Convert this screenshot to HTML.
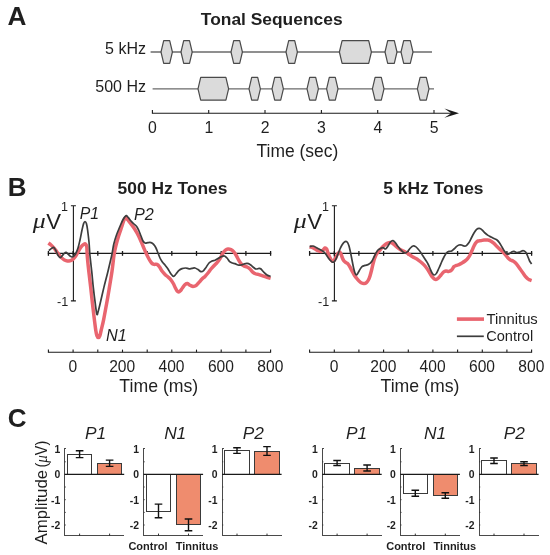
<!DOCTYPE html>
<html><head><meta charset="utf-8"><title>Figure</title>
<style>
html,body{margin:0;padding:0;background:#fff;}
body{width:550px;height:555px;overflow:hidden;font-family:"Liberation Sans",sans-serif;}
svg{display:block;will-change:transform;font-family:"Liberation Sans",sans-serif;fill:#1f1f1f;}
</style></head>
<body>
<svg width="550" height="555" viewBox="0 0 550 555">
<rect x="0" y="0" width="550" height="555" fill="#ffffff"/>
<text x="7.5" y="25.3" font-size="26.2" font-weight="bold">A</text>
<text x="271.7" y="25.4" font-size="17.4" font-weight="bold" text-anchor="middle">Tonal Sequences</text>
<text x="146" y="53.5" font-size="16" text-anchor="end">5 kHz</text>
<text x="146" y="91.9" font-size="16" text-anchor="end">500 Hz</text>
<line x1="150.6" y1="52.0" x2="432.0" y2="52.0" stroke="#6a6a6a" stroke-width="1.3"/>
<polygon points="161.0,52.0 163.7,40.6 169.7,40.6 172.4,52.0 169.7,63.4 163.7,63.4" fill="#dbdbdb" stroke="#4a4a4a" stroke-width="1.2" stroke-linejoin="round"/>
<polygon points="181.0,52.0 183.7,40.6 189.5,40.6 192.2,52.0 189.5,63.4 183.7,63.4" fill="#dbdbdb" stroke="#4a4a4a" stroke-width="1.2" stroke-linejoin="round"/>
<polygon points="231.0,52.0 233.7,40.6 239.7,40.6 242.4,52.0 239.7,63.4 233.7,63.4" fill="#dbdbdb" stroke="#4a4a4a" stroke-width="1.2" stroke-linejoin="round"/>
<polygon points="286.0,52.0 288.7,40.6 294.7,40.6 297.4,52.0 294.7,63.4 288.7,63.4" fill="#dbdbdb" stroke="#4a4a4a" stroke-width="1.2" stroke-linejoin="round"/>
<polygon points="339.4,52.0 342.1,40.6 368.7,40.6 371.4,52.0 368.7,63.4 342.1,63.4" fill="#dbdbdb" stroke="#4a4a4a" stroke-width="1.2" stroke-linejoin="round"/>
<polygon points="385.0,52.0 387.7,40.6 394.3,40.6 397.0,52.0 394.3,63.4 387.7,63.4" fill="#dbdbdb" stroke="#4a4a4a" stroke-width="1.2" stroke-linejoin="round"/>
<polygon points="401.0,52.0 403.7,40.6 410.3,40.6 413.0,52.0 410.3,63.4 403.7,63.4" fill="#dbdbdb" stroke="#4a4a4a" stroke-width="1.2" stroke-linejoin="round"/>
<line x1="152.6" y1="88.8" x2="434.0" y2="88.8" stroke="#6a6a6a" stroke-width="1.3"/>
<polygon points="198.0,88.8 200.7,77.4 225.9,77.4 228.6,88.8 225.9,100.2 200.7,100.2" fill="#dbdbdb" stroke="#4a4a4a" stroke-width="1.2" stroke-linejoin="round"/>
<polygon points="249.0,88.8 251.7,77.4 257.7,77.4 260.4,88.8 257.7,100.2 251.7,100.2" fill="#dbdbdb" stroke="#4a4a4a" stroke-width="1.2" stroke-linejoin="round"/>
<polygon points="272.0,88.8 274.7,77.4 280.7,77.4 283.4,88.8 280.7,100.2 274.7,100.2" fill="#dbdbdb" stroke="#4a4a4a" stroke-width="1.2" stroke-linejoin="round"/>
<polygon points="307.0,88.8 309.7,77.4 315.7,77.4 318.4,88.8 315.7,100.2 309.7,100.2" fill="#dbdbdb" stroke="#4a4a4a" stroke-width="1.2" stroke-linejoin="round"/>
<polygon points="326.6,88.8 329.3,77.4 335.3,77.4 338.0,88.8 335.3,100.2 329.3,100.2" fill="#dbdbdb" stroke="#4a4a4a" stroke-width="1.2" stroke-linejoin="round"/>
<polygon points="372.4,88.8 375.1,77.4 381.3,77.4 384.0,88.8 381.3,100.2 375.1,100.2" fill="#dbdbdb" stroke="#4a4a4a" stroke-width="1.2" stroke-linejoin="round"/>
<polygon points="417.4,88.8 420.1,77.4 426.3,77.4 429.0,88.8 426.3,100.2 420.1,100.2" fill="#dbdbdb" stroke="#4a4a4a" stroke-width="1.2" stroke-linejoin="round"/>
<line x1="151.9" y1="113.2" x2="452" y2="113.2" stroke="#1a1a1a" stroke-width="1.1"/>
<line x1="152.4" y1="113.2" x2="152.4" y2="110.0" stroke="#1a1a1a" stroke-width="1.1"/>
<text x="152.5" y="133.1" font-size="15.8" text-anchor="middle">0</text>
<line x1="208.7" y1="113.2" x2="208.7" y2="110.0" stroke="#1a1a1a" stroke-width="1.1"/>
<text x="208.8" y="133.1" font-size="15.8" text-anchor="middle">1</text>
<line x1="265.0" y1="113.2" x2="265.0" y2="110.0" stroke="#1a1a1a" stroke-width="1.1"/>
<text x="265.1" y="133.1" font-size="15.8" text-anchor="middle">2</text>
<line x1="321.4" y1="113.2" x2="321.4" y2="110.0" stroke="#1a1a1a" stroke-width="1.1"/>
<text x="321.5" y="133.1" font-size="15.8" text-anchor="middle">3</text>
<line x1="377.7" y1="113.2" x2="377.7" y2="110.0" stroke="#1a1a1a" stroke-width="1.1"/>
<text x="377.8" y="133.1" font-size="15.8" text-anchor="middle">4</text>
<line x1="434.0" y1="113.2" x2="434.0" y2="110.0" stroke="#1a1a1a" stroke-width="1.1"/>
<text x="434.1" y="133.1" font-size="15.8" text-anchor="middle">5</text>
<polygon points="459,113.2 444.4,108.6 451.2,113.2 444.4,117.8" fill="#1a1a1a"/>
<text x="297.4" y="156.8" font-size="17.45" text-anchor="middle">Time (sec)</text>
<text x="7.7" y="196.3" font-size="26" font-weight="bold">B</text>
<text x="172.5" y="193.9" font-size="17.4" font-weight="bold" text-anchor="middle">500 Hz Tones</text>
<text x="433.4" y="193.9" font-size="17.4" font-weight="bold" text-anchor="middle">5 kHz Tones</text>
<path d="M70.9,205.7 H75.9 M73.4,205.7 V300.9 M70.9,300.9 H75.9" fill="none" stroke="#1a1a1a" stroke-width="1.1"/>
<line x1="47.8" y1="253.4" x2="271.2" y2="253.4" stroke="#1a1a1a" stroke-width="1.3"/>
<line x1="48.4" y1="255.8" x2="48.4" y2="251.0" stroke="#1a1a1a" stroke-width="1.3"/>
<line x1="73.1" y1="255.8" x2="73.1" y2="251.0" stroke="#1a1a1a" stroke-width="1.3"/>
<line x1="97.8" y1="255.8" x2="97.8" y2="251.0" stroke="#1a1a1a" stroke-width="1.3"/>
<line x1="122.5" y1="255.8" x2="122.5" y2="251.0" stroke="#1a1a1a" stroke-width="1.3"/>
<line x1="147.2" y1="255.8" x2="147.2" y2="251.0" stroke="#1a1a1a" stroke-width="1.3"/>
<line x1="171.8" y1="255.8" x2="171.8" y2="251.0" stroke="#1a1a1a" stroke-width="1.3"/>
<line x1="196.5" y1="255.8" x2="196.5" y2="251.0" stroke="#1a1a1a" stroke-width="1.3"/>
<line x1="221.2" y1="255.8" x2="221.2" y2="251.0" stroke="#1a1a1a" stroke-width="1.3"/>
<line x1="245.9" y1="255.8" x2="245.9" y2="251.0" stroke="#1a1a1a" stroke-width="1.3"/>
<line x1="270.6" y1="255.8" x2="270.6" y2="251.0" stroke="#1a1a1a" stroke-width="1.3"/>
<line x1="47.9" y1="352.2" x2="271.1" y2="352.2" stroke="#1a1a1a" stroke-width="1.1"/>
<line x1="48.4" y1="352.2" x2="48.4" y2="349.6" stroke="#1a1a1a" stroke-width="1.1"/>
<line x1="73.1" y1="352.2" x2="73.1" y2="349.6" stroke="#1a1a1a" stroke-width="1.1"/>
<text x="72.8" y="372.3" font-size="15.6" text-anchor="middle">0</text>
<line x1="97.8" y1="352.2" x2="97.8" y2="349.6" stroke="#1a1a1a" stroke-width="1.1"/>
<line x1="122.5" y1="352.2" x2="122.5" y2="349.6" stroke="#1a1a1a" stroke-width="1.1"/>
<text x="122.2" y="372.3" font-size="15.6" text-anchor="middle">200</text>
<line x1="147.2" y1="352.2" x2="147.2" y2="349.6" stroke="#1a1a1a" stroke-width="1.1"/>
<line x1="171.8" y1="352.2" x2="171.8" y2="349.6" stroke="#1a1a1a" stroke-width="1.1"/>
<text x="171.5" y="372.3" font-size="15.6" text-anchor="middle">400</text>
<line x1="196.5" y1="352.2" x2="196.5" y2="349.6" stroke="#1a1a1a" stroke-width="1.1"/>
<line x1="221.2" y1="352.2" x2="221.2" y2="349.6" stroke="#1a1a1a" stroke-width="1.1"/>
<text x="220.9" y="372.3" font-size="15.6" text-anchor="middle">600</text>
<line x1="245.9" y1="352.2" x2="245.9" y2="349.6" stroke="#1a1a1a" stroke-width="1.1"/>
<line x1="270.6" y1="352.2" x2="270.6" y2="349.6" stroke="#1a1a1a" stroke-width="1.1"/>
<text x="270.3" y="372.3" font-size="15.6" text-anchor="middle">800</text>
<text x="67.9" y="210.5" font-size="12.5" text-anchor="end">1</text>
<text x="68.2" y="305.9" font-size="12.6" text-anchor="end">-1</text>
<text transform="translate(32.7,228.4) scale(1.2,1)" font-family="Liberation Serif" font-style="italic" font-size="21.5">μ</text>
<text x="46.2" y="228.5" font-size="22.2">V</text>
<path d="M331.9,205.7 H336.9 M334.4,205.7 V300.9 M331.9,300.9 H336.9" fill="none" stroke="#1a1a1a" stroke-width="1.1"/>
<line x1="309.0" y1="253.4" x2="532.2" y2="253.4" stroke="#1a1a1a" stroke-width="1.3"/>
<line x1="309.6" y1="255.8" x2="309.6" y2="251.0" stroke="#1a1a1a" stroke-width="1.3"/>
<line x1="334.3" y1="255.8" x2="334.3" y2="251.0" stroke="#1a1a1a" stroke-width="1.3"/>
<line x1="358.9" y1="255.8" x2="358.9" y2="251.0" stroke="#1a1a1a" stroke-width="1.3"/>
<line x1="383.6" y1="255.8" x2="383.6" y2="251.0" stroke="#1a1a1a" stroke-width="1.3"/>
<line x1="408.3" y1="255.8" x2="408.3" y2="251.0" stroke="#1a1a1a" stroke-width="1.3"/>
<line x1="432.9" y1="255.8" x2="432.9" y2="251.0" stroke="#1a1a1a" stroke-width="1.3"/>
<line x1="457.6" y1="255.8" x2="457.6" y2="251.0" stroke="#1a1a1a" stroke-width="1.3"/>
<line x1="482.3" y1="255.8" x2="482.3" y2="251.0" stroke="#1a1a1a" stroke-width="1.3"/>
<line x1="506.9" y1="255.8" x2="506.9" y2="251.0" stroke="#1a1a1a" stroke-width="1.3"/>
<line x1="531.6" y1="255.8" x2="531.6" y2="251.0" stroke="#1a1a1a" stroke-width="1.3"/>
<line x1="309.1" y1="352.2" x2="532.1" y2="352.2" stroke="#1a1a1a" stroke-width="1.1"/>
<line x1="309.6" y1="352.2" x2="309.6" y2="349.6" stroke="#1a1a1a" stroke-width="1.1"/>
<line x1="334.3" y1="352.2" x2="334.3" y2="349.6" stroke="#1a1a1a" stroke-width="1.1"/>
<text x="334.0" y="372.3" font-size="15.6" text-anchor="middle">0</text>
<line x1="358.9" y1="352.2" x2="358.9" y2="349.6" stroke="#1a1a1a" stroke-width="1.1"/>
<line x1="383.6" y1="352.2" x2="383.6" y2="349.6" stroke="#1a1a1a" stroke-width="1.1"/>
<text x="383.3" y="372.3" font-size="15.6" text-anchor="middle">200</text>
<line x1="408.3" y1="352.2" x2="408.3" y2="349.6" stroke="#1a1a1a" stroke-width="1.1"/>
<line x1="432.9" y1="352.2" x2="432.9" y2="349.6" stroke="#1a1a1a" stroke-width="1.1"/>
<text x="432.6" y="372.3" font-size="15.6" text-anchor="middle">400</text>
<line x1="457.6" y1="352.2" x2="457.6" y2="349.6" stroke="#1a1a1a" stroke-width="1.1"/>
<line x1="482.3" y1="352.2" x2="482.3" y2="349.6" stroke="#1a1a1a" stroke-width="1.1"/>
<text x="482.0" y="372.3" font-size="15.6" text-anchor="middle">600</text>
<line x1="506.9" y1="352.2" x2="506.9" y2="349.6" stroke="#1a1a1a" stroke-width="1.1"/>
<line x1="531.6" y1="352.2" x2="531.6" y2="349.6" stroke="#1a1a1a" stroke-width="1.1"/>
<text x="531.3" y="372.3" font-size="15.6" text-anchor="middle">800</text>
<text x="328.9" y="210.5" font-size="12.5" text-anchor="end">1</text>
<text x="329.2" y="305.9" font-size="12.6" text-anchor="end">-1</text>
<text transform="translate(293.7,228.4) scale(1.2,1)" font-family="Liberation Serif" font-style="italic" font-size="21.5">μ</text>
<text x="307.2" y="228.5" font-size="22.2">V</text>
<text x="158.8" y="392.0" font-size="17.7" text-anchor="middle">Time (ms)</text>
<text x="420.0" y="392.0" font-size="17.7" text-anchor="middle">Time (ms)</text>
<path d="M48.4,243.0C48.8,243.3 50.1,244.2 51.0,245.0C51.9,245.8 53.0,246.8 54.0,248.0C55.0,249.2 56.0,250.7 57.0,252.0C58.0,253.3 59.0,254.8 60.0,256.0C61.0,257.2 62.0,258.2 63.0,259.0C64.0,259.8 65.0,260.3 66.0,260.6C67.0,260.9 68.0,261.1 69.0,261.0C70.0,260.9 71.0,260.7 72.0,260.0C73.0,259.3 74.0,258.3 75.0,257.0C76.0,255.7 77.0,253.7 78.0,252.0C79.0,250.3 80.1,248.3 81.0,247.0C81.9,245.7 82.8,244.9 83.6,244.4C84.4,243.9 85.1,243.6 85.6,244.0C86.1,244.4 86.5,245.2 86.8,247.0C87.1,248.8 86.9,251.0 87.2,255.0C87.5,259.0 88.2,265.8 88.8,271.2C89.4,276.6 90.1,282.0 90.7,287.4C91.3,292.8 91.9,298.3 92.5,303.7C93.1,309.1 93.9,315.4 94.4,319.9C95.0,324.4 95.4,327.9 95.8,330.5C96.2,333.1 96.5,334.4 96.9,335.6C97.3,336.8 97.9,337.6 98.4,337.6C98.9,337.6 99.5,336.8 99.9,335.6C100.4,334.4 100.5,333.1 101.1,330.5C101.7,327.9 102.7,324.4 103.6,319.9C104.5,315.4 105.6,309.1 106.6,303.7C107.6,298.3 108.5,292.8 109.4,287.4C110.3,282.0 111.2,276.6 112.0,271.2C112.8,265.8 113.4,259.2 114.0,255.0C114.6,250.8 115.0,249.2 115.8,246.0C116.6,242.8 117.6,239.3 118.6,236.0C119.6,232.7 121.1,228.7 122.0,226.0C122.9,223.3 123.3,221.4 124.0,220.0C124.7,218.6 125.3,217.6 126.0,217.6C126.7,217.6 127.2,218.9 128.0,220.0C128.8,221.1 130.0,222.7 131.0,224.0C132.0,225.3 133.0,226.5 134.0,228.0C135.0,229.5 136.0,231.2 137.0,233.0C138.0,234.8 139.0,236.8 140.0,239.0C141.0,241.2 142.0,243.7 143.0,246.0C144.0,248.3 145.0,250.8 146.0,253.0C147.0,255.2 148.1,257.3 149.0,259.0C149.9,260.7 150.8,262.1 151.6,263.0C152.4,263.9 153.1,264.2 154.0,264.4C154.9,264.6 156.1,264.0 157.0,264.4C157.9,264.8 158.8,265.9 159.6,267.0C160.4,268.1 161.1,269.8 162.0,271.0C162.9,272.2 164.0,273.4 165.0,274.4C166.0,275.4 167.0,276.1 168.0,277.0C169.0,277.9 170.1,278.8 171.0,280.0C171.9,281.2 172.8,282.6 173.6,284.0C174.3,285.4 174.9,287.1 175.5,288.2C176.1,289.3 176.5,290.2 177.0,290.8C177.5,291.4 178.1,291.9 178.7,291.9C179.3,291.9 179.8,291.4 180.4,290.8C181.0,290.2 181.6,289.0 182.4,288.0C183.2,287.0 184.1,285.3 185.0,284.6C185.9,283.9 186.8,283.5 187.6,283.6C188.4,283.7 189.1,284.8 190.0,285.3C190.9,285.8 192.0,286.3 193.0,286.4C194.0,286.4 195.0,286.3 196.0,285.6C197.0,284.9 198.0,283.5 199.0,282.4C200.0,281.3 201.0,280.0 202.0,279.0C203.0,278.0 204.0,277.4 205.0,276.4C206.0,275.4 207.0,274.2 208.0,273.0C209.0,271.8 210.0,270.2 211.0,269.0C212.0,267.8 213.0,266.9 214.0,265.8C215.0,264.7 216.0,263.8 217.0,262.6C218.0,261.4 219.0,260.1 220.0,258.5C221.0,256.9 222.1,254.4 223.0,253.0C223.9,251.6 224.8,250.7 225.6,250.0C226.4,249.3 227.1,249.1 228.0,249.0C228.9,248.9 230.1,249.2 231.0,249.6C231.9,250.0 232.8,250.7 233.6,251.6C234.4,252.5 235.2,253.7 236.0,255.0C236.8,256.3 237.6,258.2 238.4,259.6C239.2,261.0 240.1,262.5 241.0,263.6C241.9,264.7 243.0,265.4 244.0,266.0C245.0,266.6 246.0,266.5 247.0,267.0C248.0,267.5 249.0,268.1 250.0,269.0C251.0,269.9 252.0,271.6 253.0,272.4C254.0,273.2 255.0,273.6 256.0,274.0C257.0,274.4 258.0,274.3 259.0,274.6C260.0,274.9 261.0,275.3 262.0,275.6C263.0,275.9 264.0,276.3 265.0,276.6C266.0,276.9 267.1,277.3 268.0,277.6C268.9,277.9 270.2,278.3 270.6,278.4" fill="none" stroke="#E9656F" stroke-width="3.5" stroke-linejoin="round" stroke-linecap="butt"/>
<path d="M48.8,250.6C49.2,250.3 50.5,249.1 51.3,248.6C52.1,248.1 52.7,247.2 53.4,247.4C54.1,247.6 54.6,248.3 55.4,249.6C56.2,250.9 57.2,254.1 58.0,255.4C58.8,256.7 59.3,257.5 60.0,257.6C60.7,257.7 61.3,256.7 62.0,256.0C62.7,255.3 63.3,254.2 64.0,253.6C64.7,253.0 65.3,252.3 66.0,252.4C66.7,252.5 67.3,253.4 68.0,254.0C68.7,254.6 69.3,255.5 70.0,256.0C70.7,256.5 71.3,257.0 72.0,257.0C72.7,257.0 73.3,256.7 74.0,256.0C74.7,255.3 75.3,254.3 76.0,253.0C76.7,251.7 77.3,250.2 78.0,248.0C78.7,245.8 79.3,243.0 80.0,240.0C80.7,237.0 81.4,232.7 82.0,230.0C82.6,227.3 83.1,225.0 83.6,223.6C84.1,222.2 84.5,221.6 85.0,221.6C85.5,221.6 86.0,222.2 86.4,223.6C86.8,225.0 87.2,226.9 87.6,230.0C88.0,233.1 88.6,237.8 89.0,242.0C89.4,246.2 89.5,250.1 89.9,255.0C90.4,259.9 91.1,265.8 91.7,271.2C92.3,276.6 92.7,282.0 93.3,287.4C93.9,292.8 94.7,299.2 95.3,303.7C95.9,308.2 96.4,313.2 96.9,314.4C97.4,315.6 97.8,312.8 98.3,311.0C98.8,309.2 99.2,307.6 100.1,303.7C101.0,299.8 102.6,292.8 103.9,287.4C105.2,282.0 106.7,276.6 108.0,271.2C109.3,265.8 110.8,259.5 111.8,255.0C112.8,250.5 113.0,247.3 113.8,244.0C114.6,240.7 115.5,237.8 116.5,235.0C117.5,232.2 118.7,229.5 119.7,227.0C120.8,224.5 121.9,221.7 122.8,220.0C123.7,218.3 124.4,217.3 125.0,216.6C125.6,215.9 125.8,215.4 126.4,215.6C127.0,215.8 127.6,216.7 128.4,217.6C129.2,218.5 130.1,219.9 131.0,221.0C131.9,222.1 133.0,223.0 134.0,224.0C135.0,225.0 136.2,225.8 137.0,227.0C137.8,228.2 138.3,229.5 139.0,231.0C139.7,232.5 140.3,234.3 141.0,236.0C141.7,237.7 142.3,239.8 143.0,241.0C143.7,242.2 144.2,242.7 145.0,243.0C145.8,243.3 147.0,242.7 148.0,242.6C149.0,242.5 150.1,242.3 151.0,242.6C151.9,242.9 152.8,243.5 153.6,244.4C154.4,245.3 155.3,246.6 156.0,248.0C156.7,249.4 157.3,251.3 158.0,253.0C158.7,254.7 159.3,256.5 160.0,258.0C160.7,259.5 161.6,260.8 162.4,262.0C163.2,263.2 164.1,263.8 165.0,265.0C165.9,266.2 167.0,267.5 168.0,269.0C169.0,270.5 170.1,272.8 171.0,274.0C171.9,275.2 172.8,276.4 173.6,276.4C174.4,276.4 175.1,275.0 176.0,274.0C176.9,273.0 178.0,271.3 179.0,270.4C180.0,269.5 180.9,269.0 182.0,268.6C183.1,268.2 184.4,268.0 185.6,268.0C186.8,268.0 187.9,268.7 189.0,268.8C190.1,268.9 191.0,268.5 192.0,268.4C193.0,268.3 194.0,267.8 195.0,268.0C196.0,268.2 197.0,269.0 198.0,269.6C199.0,270.2 200.1,271.4 201.0,271.6C201.9,271.8 202.8,271.3 203.6,270.6C204.4,269.9 205.1,268.7 206.0,267.4C206.9,266.1 208.0,264.1 209.0,263.0C210.0,261.9 211.0,261.5 212.0,261.0C213.0,260.5 214.0,260.6 215.0,260.2C216.0,259.8 217.0,259.2 218.0,258.6C219.0,258.0 219.9,257.2 221.0,256.8C222.1,256.4 223.4,255.8 224.4,256.0C225.4,256.2 226.1,257.1 227.0,258.0C227.9,258.9 228.7,260.8 229.6,261.6C230.5,262.4 231.5,262.7 232.4,263.0C233.3,263.3 234.1,263.3 235.0,263.6C235.9,263.9 237.0,264.8 238.0,265.0C239.0,265.2 240.0,265.2 241.0,265.0C242.0,264.8 243.0,264.3 244.0,264.0C245.0,263.7 246.0,263.3 247.0,263.4C248.0,263.5 249.0,263.8 250.0,264.4C251.0,265.0 252.0,266.2 253.0,267.0C254.0,267.8 255.0,268.8 256.0,269.0C257.0,269.2 258.2,268.4 259.0,268.4C259.8,268.4 260.2,268.3 261.0,269.0C261.8,269.7 263.0,271.4 264.0,272.4C265.0,273.4 265.9,274.3 267.0,275.0C268.1,275.7 270.0,276.2 270.6,276.4" fill="none" stroke="#3d3d3d" stroke-width="1.7" stroke-linejoin="round"/>
<path d="M309.6,247.0C310.0,247.1 311.1,247.1 312.0,247.4C312.9,247.7 314.0,248.5 315.0,249.0C316.0,249.5 317.0,250.2 318.0,250.6C319.0,251.0 320.2,251.7 321.0,251.6C321.8,251.5 322.3,250.6 323.0,250.0C323.7,249.4 324.4,248.2 325.0,248.0C325.6,247.8 326.1,248.2 326.6,249.0C327.1,249.8 327.5,251.7 328.0,253.0C328.5,254.3 329.0,255.7 329.6,257.0C330.2,258.3 330.9,259.9 331.6,260.6C332.3,261.3 332.9,261.4 333.6,261.0C334.3,260.6 334.9,259.2 335.6,258.0C336.3,256.8 336.9,255.0 337.6,254.0C338.3,253.0 339.0,252.0 339.6,252.0C340.2,252.0 340.5,253.0 341.0,254.0C341.5,255.0 341.9,256.8 342.4,258.0C342.9,259.2 343.4,260.2 344.0,261.0C344.6,261.8 345.3,262.1 346.0,262.6C346.7,263.1 347.3,263.3 348.0,264.0C348.7,264.7 349.3,265.8 350.0,267.0C350.7,268.2 351.3,269.7 352.0,271.0C352.7,272.3 353.3,273.4 354.0,274.6C354.7,275.8 355.6,276.9 356.4,278.0C357.2,279.1 358.1,280.2 359.0,281.0C359.9,281.8 360.8,282.6 361.6,283.0C362.4,283.4 363.2,283.7 364.0,283.6C364.8,283.5 365.7,283.2 366.4,282.6C367.1,282.0 367.8,281.1 368.4,280.0C369.0,278.9 369.5,277.7 370.0,276.0C370.5,274.3 371.1,272.0 371.6,270.0C372.1,268.0 372.5,265.8 373.0,264.0C373.5,262.2 373.9,260.5 374.4,259.0C374.9,257.5 375.4,256.2 376.0,255.0C376.6,253.8 377.3,252.8 378.0,252.0C378.7,251.2 379.2,250.9 380.0,250.0C380.8,249.1 382.0,247.6 383.0,246.6C384.0,245.6 385.0,244.7 386.0,244.0C387.0,243.3 388.0,242.8 389.0,242.6C390.0,242.4 391.0,242.5 392.0,243.0C393.0,243.5 394.0,244.6 395.0,245.4C396.0,246.2 397.0,247.2 398.0,248.0C399.0,248.8 400.0,249.4 401.0,250.0C402.0,250.6 403.0,250.9 404.0,251.4C405.0,251.9 406.0,252.4 407.0,253.0C408.0,253.6 409.0,254.3 410.0,255.0C411.0,255.7 412.0,256.4 413.0,257.0C414.0,257.6 415.0,258.0 416.0,258.6C417.0,259.2 418.0,259.9 419.0,260.6C420.0,261.3 421.0,262.1 422.0,263.0C423.0,263.9 424.0,264.8 425.0,266.0C426.0,267.2 427.1,268.7 428.0,270.0C428.9,271.3 429.7,272.8 430.4,274.0C431.1,275.2 431.7,276.2 432.4,277.0C433.1,277.8 433.7,278.6 434.4,279.0C435.1,279.4 435.7,279.6 436.4,279.4C437.1,279.2 437.6,278.7 438.4,278.0C439.2,277.3 440.1,276.0 441.0,275.0C441.9,274.0 442.8,272.7 443.6,272.0C444.4,271.3 445.1,271.1 446.0,271.0C446.9,270.9 448.1,271.6 449.0,271.4C449.9,271.2 450.8,270.8 451.6,270.0C452.4,269.2 453.2,267.4 454.0,266.6C454.8,265.8 455.6,265.7 456.4,265.4C457.2,265.1 458.1,265.0 459.0,264.6C459.9,264.2 461.0,263.6 462.0,263.0C463.0,262.4 464.1,261.7 465.0,261.0C465.9,260.3 466.8,259.6 467.6,258.6C468.4,257.6 469.3,256.3 470.0,255.0C470.7,253.7 471.3,252.1 472.0,250.6C472.7,249.1 473.3,247.3 474.0,246.0C474.7,244.7 475.3,243.4 476.0,242.6C476.7,241.8 477.2,241.3 478.0,241.0C478.8,240.7 480.0,240.8 481.0,240.6C482.0,240.4 483.0,240.1 484.0,240.0C485.0,239.9 486.0,239.9 487.0,240.0C488.0,240.1 488.8,240.0 490.0,240.6C491.2,241.2 492.8,242.4 494.0,243.4C495.2,244.4 496.0,245.6 497.0,246.6C498.0,247.6 499.0,248.5 500.0,249.4C501.0,250.3 502.1,251.1 503.0,252.0C503.9,252.9 504.8,254.0 505.6,255.0C506.4,256.0 507.2,257.2 508.0,258.0C508.8,258.8 509.6,259.5 510.4,260.0C511.2,260.5 512.1,260.5 513.0,261.0C513.9,261.5 514.8,262.2 515.6,263.0C516.4,263.8 517.2,264.9 518.0,266.0C518.8,267.1 519.6,268.2 520.4,269.4C521.2,270.6 522.1,271.8 523.0,273.0C523.9,274.2 524.8,275.6 525.6,276.6C526.4,277.6 527.3,278.4 528.0,279.0C528.7,279.6 529.4,279.7 530.0,280.0C530.6,280.3 531.3,280.5 531.6,280.6" fill="none" stroke="#E9656F" stroke-width="3.5" stroke-linejoin="round"/>
<path d="M309.6,246.6C310.2,246.5 311.9,245.9 313.0,246.0C314.1,246.1 315.0,246.9 316.0,247.4C317.0,247.9 318.0,248.5 319.0,249.0C320.0,249.5 321.2,250.1 322.0,250.6C322.8,251.1 323.3,251.3 324.0,252.0C324.7,252.7 325.3,253.7 326.0,254.6C326.7,255.5 327.3,256.5 328.0,257.4C328.7,258.3 329.3,259.2 330.0,260.0C330.7,260.8 331.3,261.7 332.0,262.0C332.7,262.3 333.3,262.5 334.0,262.0C334.7,261.5 335.3,260.3 336.0,259.0C336.7,257.7 337.3,255.7 338.0,254.0C338.7,252.3 339.3,250.5 340.0,249.0C340.7,247.5 341.3,246.1 342.0,245.0C342.7,243.9 343.3,243.0 344.0,242.4C344.7,241.8 345.4,241.4 346.0,241.4C346.6,241.4 347.1,241.8 347.6,242.6C348.1,243.4 348.5,244.4 349.0,246.0C349.5,247.6 349.9,249.7 350.4,252.0C350.9,254.3 351.5,257.3 352.0,260.0C352.5,262.7 353.1,265.8 353.6,268.0C354.1,270.2 354.5,271.8 355.0,273.0C355.5,274.2 355.9,275.0 356.4,275.0C356.9,275.0 357.4,273.9 358.0,273.0C358.6,272.1 359.3,270.5 360.0,269.4C360.7,268.3 361.2,267.3 362.0,266.6C362.8,265.9 364.0,265.7 365.0,265.4C366.0,265.1 367.2,264.9 368.0,264.6C368.8,264.3 369.3,264.0 370.0,263.4C370.7,262.8 371.3,262.1 372.0,261.0C372.7,259.9 373.3,258.3 374.0,257.0C374.7,255.7 375.3,254.2 376.0,253.0C376.7,251.8 377.3,250.7 378.0,250.0C378.7,249.3 379.6,249.0 380.4,248.6C381.2,248.2 382.1,247.5 383.0,247.6C383.9,247.7 384.8,249.3 385.6,249.0C386.4,248.7 387.2,247.2 388.0,246.0C388.8,244.8 389.6,242.9 390.4,242.0C391.2,241.1 392.1,240.4 393.0,240.6C393.9,240.8 394.8,242.0 395.6,243.0C396.4,244.0 397.2,245.5 398.0,246.6C398.8,247.7 399.6,248.5 400.4,249.4C401.2,250.3 402.1,251.4 403.0,252.0C403.9,252.6 404.8,253.2 405.6,253.0C406.4,252.8 407.2,251.8 408.0,251.0C408.8,250.2 409.6,248.8 410.4,248.0C411.2,247.2 412.1,246.2 413.0,246.0C413.9,245.8 414.8,246.1 415.6,246.6C416.4,247.1 417.2,248.1 418.0,249.0C418.8,249.9 419.6,250.8 420.4,252.0C421.2,253.2 422.1,254.7 423.0,256.0C423.9,257.3 424.8,258.7 425.6,260.0C426.4,261.3 427.2,262.4 428.0,264.0C428.8,265.6 429.7,267.8 430.4,269.4C431.1,271.0 431.7,272.5 432.4,273.4C433.1,274.3 433.7,275.0 434.4,275.0C435.1,275.0 435.6,274.6 436.4,273.4C437.2,272.2 438.1,269.9 439.0,268.0C439.9,266.1 440.8,263.8 441.6,262.0C442.4,260.2 443.2,258.5 444.0,257.0C444.8,255.5 445.6,253.9 446.4,253.0C447.2,252.1 448.1,251.7 449.0,251.4C449.9,251.1 450.8,251.4 451.6,251.0C452.4,250.6 453.2,249.7 454.0,249.0C454.8,248.3 455.6,247.3 456.4,246.6C457.2,245.9 458.1,245.3 459.0,245.0C459.9,244.7 460.8,244.8 461.6,245.0C462.4,245.2 463.2,245.9 464.0,246.0C464.8,246.1 465.6,246.2 466.4,245.6C467.2,245.0 468.1,243.8 469.0,242.5C469.9,241.2 470.8,239.1 471.6,237.5C472.4,235.9 473.2,234.3 474.0,233.0C474.8,231.7 475.7,230.2 476.6,229.4C477.5,228.6 478.4,228.3 479.3,228.4C480.2,228.5 481.1,229.0 482.0,229.8C482.9,230.6 484.0,232.1 485.0,233.0C486.0,233.9 487.0,234.7 488.0,235.4C489.0,236.1 490.0,236.5 491.0,237.0C492.0,237.5 493.0,238.1 494.0,238.6C495.0,239.1 496.1,239.3 497.0,240.0C497.9,240.7 498.8,241.8 499.6,243.0C500.4,244.2 501.2,245.7 502.0,247.0C502.8,248.3 503.6,249.8 504.4,251.0C505.2,252.2 506.2,253.5 507.0,254.0C507.8,254.5 508.2,254.3 509.0,254.0C509.8,253.7 510.8,252.4 511.6,252.0C512.4,251.6 513.1,251.3 514.0,251.4C514.9,251.5 516.0,252.5 517.0,252.6C518.0,252.7 519.0,252.3 520.0,252.0C521.0,251.7 522.1,250.6 523.0,250.6C523.9,250.6 524.8,251.1 525.6,252.0C526.4,252.9 526.9,254.5 527.6,256.0C528.3,257.5 528.9,259.7 529.6,261.0C530.3,262.3 531.3,263.5 531.6,264.0" fill="none" stroke="#3d3d3d" stroke-width="1.7" stroke-linejoin="round"/>
<text x="79.7" y="219.2" font-size="15.8" font-style="italic">P1</text>
<text x="133.9" y="220.3" font-size="16.2" font-style="italic">P2</text>
<text x="106.0" y="341.2" font-size="16.2" font-style="italic">N1</text>
<line x1="456.9" y1="319.1" x2="484" y2="319.1" stroke="#E9656F" stroke-width="3.6"/>
<line x1="456.9" y1="336.3" x2="483.8" y2="336.3" stroke="#3d3d3d" stroke-width="1.7"/>
<text x="486.5" y="324.3" font-size="14.8">Tinnitus</text>
<text x="486.2" y="341.4" font-size="14.6">Control</text>
<text x="7.8" y="427.3" font-size="26" font-weight="bold">C</text>
<text transform="translate(46.7,544.5) rotate(-90)" font-size="15.8" textLength="74.6" lengthAdjust="spacingAndGlyphs">Amplitude</text>
<text transform="translate(46.7,467.6) rotate(-90)" font-size="15.6" textLength="26.8" lengthAdjust="spacingAndGlyphs">(<tspan font-family="Liberation Serif" font-style="italic" font-size="16.5">μ</tspan>V)</text>
<path d="M66.2,448.0 H64.6 V535.6 H124.2" fill="none" stroke="#4a4a4a" stroke-width="1" shape-rendering="crispEdges"/>
<text x="95.5" y="438.7" font-size="17.3" font-style="italic" text-anchor="middle">P1</text>
<text x="60.2" y="453.0" font-size="10.4" font-weight="bold" text-anchor="end">1</text>
<text x="60.2" y="478.3" font-size="10.4" font-weight="bold" text-anchor="end">0</text>
<text x="60.2" y="503.6" font-size="10.4" font-weight="bold" text-anchor="end">-1</text>
<text x="60.2" y="528.9" font-size="10.4" font-weight="bold" text-anchor="end">-2</text>
<line x1="64.6" y1="525.0" x2="65.9" y2="525.0" stroke="#333" stroke-width="0.8"/>
<line x1="64.6" y1="512.4" x2="65.9" y2="512.4" stroke="#333" stroke-width="0.8"/>
<line x1="64.6" y1="499.7" x2="65.9" y2="499.7" stroke="#333" stroke-width="0.8"/>
<line x1="64.6" y1="487.0" x2="65.9" y2="487.0" stroke="#333" stroke-width="0.8"/>
<line x1="64.6" y1="461.8" x2="65.9" y2="461.8" stroke="#333" stroke-width="0.8"/>
<rect x="67.3" y="454.3" width="24.5" height="20.1" fill="#fff" stroke="#3a3a3a" stroke-width="1" shape-rendering="crispEdges"/>
<line x1="79.6" y1="535.6" x2="79.6" y2="533.6" stroke="#1a1a1a" stroke-width="0.9"/>
<rect x="97.3" y="463.3" width="24.5" height="11.1" fill="#EF8C6E" stroke="#3a3a3a" stroke-width="1" shape-rendering="crispEdges"/>
<line x1="109.6" y1="535.6" x2="109.6" y2="533.6" stroke="#1a1a1a" stroke-width="0.9"/>
<line x1="64.6" y1="474.4" x2="124.2" y2="474.4" stroke="#1a1a1a" stroke-width="1.3"/>
<path d="M75.8,450.8 H83.4 M79.6,450.8 V457.6 M75.8,457.6 H83.4" fill="none" stroke="#111" stroke-width="1.4"/>
<path d="M105.8,460.1 H113.4 M109.6,460.1 V466.4 M105.8,466.4 H113.4" fill="none" stroke="#111" stroke-width="1.4"/>
<path d="M145.1,448.0 H143.5 V535.6 H203.1" fill="none" stroke="#4a4a4a" stroke-width="1" shape-rendering="crispEdges"/>
<text x="175.2" y="438.7" font-size="17.3" font-style="italic" text-anchor="middle">N1</text>
<text x="139.1" y="453.0" font-size="10.4" font-weight="bold" text-anchor="end">1</text>
<text x="139.1" y="478.3" font-size="10.4" font-weight="bold" text-anchor="end">0</text>
<text x="139.1" y="503.6" font-size="10.4" font-weight="bold" text-anchor="end">-1</text>
<text x="139.1" y="528.9" font-size="10.4" font-weight="bold" text-anchor="end">-2</text>
<line x1="143.5" y1="525.0" x2="144.8" y2="525.0" stroke="#333" stroke-width="0.8"/>
<line x1="143.5" y1="512.4" x2="144.8" y2="512.4" stroke="#333" stroke-width="0.8"/>
<line x1="143.5" y1="499.7" x2="144.8" y2="499.7" stroke="#333" stroke-width="0.8"/>
<line x1="143.5" y1="487.0" x2="144.8" y2="487.0" stroke="#333" stroke-width="0.8"/>
<line x1="143.5" y1="461.8" x2="144.8" y2="461.8" stroke="#333" stroke-width="0.8"/>
<rect x="146.2" y="474.4" width="24.5" height="36.7" fill="#fff" stroke="#3a3a3a" stroke-width="1" shape-rendering="crispEdges"/>
<line x1="158.5" y1="535.6" x2="158.5" y2="533.6" stroke="#1a1a1a" stroke-width="0.9"/>
<rect x="176.2" y="474.4" width="24.5" height="50.3" fill="#EF8C6E" stroke="#3a3a3a" stroke-width="1" shape-rendering="crispEdges"/>
<line x1="188.5" y1="535.6" x2="188.5" y2="533.6" stroke="#1a1a1a" stroke-width="0.9"/>
<line x1="143.5" y1="474.4" x2="203.1" y2="474.4" stroke="#1a1a1a" stroke-width="1.3"/>
<path d="M154.7,504.1 H162.3 M158.5,504.1 V517.8 M154.7,517.8 H162.3" fill="none" stroke="#111" stroke-width="1.4"/>
<path d="M184.7,519.0 H192.3 M188.5,519.0 V530.7 M184.7,530.7 H192.3" fill="none" stroke="#111" stroke-width="1.4"/>
<path d="M223.6,448.0 H222.0 V535.6 H281.6" fill="none" stroke="#4a4a4a" stroke-width="1" shape-rendering="crispEdges"/>
<text x="253.4" y="438.7" font-size="17.3" font-style="italic" text-anchor="middle">P2</text>
<text x="217.6" y="453.0" font-size="10.4" font-weight="bold" text-anchor="end">1</text>
<text x="217.6" y="478.3" font-size="10.4" font-weight="bold" text-anchor="end">0</text>
<text x="217.6" y="503.6" font-size="10.4" font-weight="bold" text-anchor="end">-1</text>
<text x="217.6" y="528.9" font-size="10.4" font-weight="bold" text-anchor="end">-2</text>
<line x1="222.0" y1="525.0" x2="223.3" y2="525.0" stroke="#333" stroke-width="0.8"/>
<line x1="222.0" y1="512.4" x2="223.3" y2="512.4" stroke="#333" stroke-width="0.8"/>
<line x1="222.0" y1="499.7" x2="223.3" y2="499.7" stroke="#333" stroke-width="0.8"/>
<line x1="222.0" y1="487.0" x2="223.3" y2="487.0" stroke="#333" stroke-width="0.8"/>
<line x1="222.0" y1="461.8" x2="223.3" y2="461.8" stroke="#333" stroke-width="0.8"/>
<rect x="224.8" y="450.5" width="24.5" height="23.9" fill="#fff" stroke="#3a3a3a" stroke-width="1" shape-rendering="crispEdges"/>
<line x1="237.0" y1="535.6" x2="237.0" y2="533.6" stroke="#1a1a1a" stroke-width="0.9"/>
<rect x="254.8" y="451.0" width="24.5" height="23.4" fill="#EF8C6E" stroke="#3a3a3a" stroke-width="1" shape-rendering="crispEdges"/>
<line x1="267.0" y1="535.6" x2="267.0" y2="533.6" stroke="#1a1a1a" stroke-width="0.9"/>
<line x1="222.0" y1="474.4" x2="281.6" y2="474.4" stroke="#1a1a1a" stroke-width="1.3"/>
<path d="M233.2,447.8 H240.8 M237.0,447.8 V453.4 M233.2,453.4 H240.8" fill="none" stroke="#111" stroke-width="1.4"/>
<path d="M263.2,446.6 H270.8 M267.0,446.6 V455.4 M263.2,455.4 H270.8" fill="none" stroke="#111" stroke-width="1.4"/>
<path d="M323.7,448.0 H322.1 V535.6 H381.7" fill="none" stroke="#4a4a4a" stroke-width="1" shape-rendering="crispEdges"/>
<text x="356.6" y="438.7" font-size="17.3" font-style="italic" text-anchor="middle">P1</text>
<text x="317.7" y="453.0" font-size="10.4" font-weight="bold" text-anchor="end">1</text>
<text x="317.7" y="478.3" font-size="10.4" font-weight="bold" text-anchor="end">0</text>
<text x="317.7" y="503.6" font-size="10.4" font-weight="bold" text-anchor="end">-1</text>
<text x="317.7" y="528.9" font-size="10.4" font-weight="bold" text-anchor="end">-2</text>
<line x1="322.1" y1="525.0" x2="323.4" y2="525.0" stroke="#333" stroke-width="0.8"/>
<line x1="322.1" y1="512.4" x2="323.4" y2="512.4" stroke="#333" stroke-width="0.8"/>
<line x1="322.1" y1="499.7" x2="323.4" y2="499.7" stroke="#333" stroke-width="0.8"/>
<line x1="322.1" y1="487.0" x2="323.4" y2="487.0" stroke="#333" stroke-width="0.8"/>
<line x1="322.1" y1="461.8" x2="323.4" y2="461.8" stroke="#333" stroke-width="0.8"/>
<rect x="324.9" y="463.0" width="24.5" height="11.4" fill="#fff" stroke="#3a3a3a" stroke-width="1" shape-rendering="crispEdges"/>
<line x1="337.1" y1="535.6" x2="337.1" y2="533.6" stroke="#1a1a1a" stroke-width="0.9"/>
<rect x="354.9" y="468.5" width="24.5" height="5.9" fill="#EF8C6E" stroke="#3a3a3a" stroke-width="1" shape-rendering="crispEdges"/>
<line x1="367.1" y1="535.6" x2="367.1" y2="533.6" stroke="#1a1a1a" stroke-width="0.9"/>
<line x1="322.1" y1="474.4" x2="381.7" y2="474.4" stroke="#1a1a1a" stroke-width="1.3"/>
<path d="M333.3,460.5 H340.9 M337.1,460.5 V465.5 M333.3,465.5 H340.9" fill="none" stroke="#111" stroke-width="1.4"/>
<path d="M363.3,465.0 H370.9 M367.1,465.0 V471.0 M363.3,471.0 H370.9" fill="none" stroke="#111" stroke-width="1.4"/>
<path d="M401.9,448.0 H400.3 V535.6 H459.9" fill="none" stroke="#4a4a4a" stroke-width="1" shape-rendering="crispEdges"/>
<text x="435.0" y="438.7" font-size="17.3" font-style="italic" text-anchor="middle">N1</text>
<text x="395.9" y="453.0" font-size="10.4" font-weight="bold" text-anchor="end">1</text>
<text x="395.9" y="478.3" font-size="10.4" font-weight="bold" text-anchor="end">0</text>
<text x="395.9" y="503.6" font-size="10.4" font-weight="bold" text-anchor="end">-1</text>
<text x="395.9" y="528.9" font-size="10.4" font-weight="bold" text-anchor="end">-2</text>
<line x1="400.3" y1="525.0" x2="401.6" y2="525.0" stroke="#333" stroke-width="0.8"/>
<line x1="400.3" y1="512.4" x2="401.6" y2="512.4" stroke="#333" stroke-width="0.8"/>
<line x1="400.3" y1="499.7" x2="401.6" y2="499.7" stroke="#333" stroke-width="0.8"/>
<line x1="400.3" y1="487.0" x2="401.6" y2="487.0" stroke="#333" stroke-width="0.8"/>
<line x1="400.3" y1="461.8" x2="401.6" y2="461.8" stroke="#333" stroke-width="0.8"/>
<rect x="403.1" y="474.4" width="24.5" height="19.0" fill="#fff" stroke="#3a3a3a" stroke-width="1" shape-rendering="crispEdges"/>
<line x1="415.3" y1="535.6" x2="415.3" y2="533.6" stroke="#1a1a1a" stroke-width="0.9"/>
<rect x="433.1" y="474.4" width="24.5" height="21.5" fill="#EF8C6E" stroke="#3a3a3a" stroke-width="1" shape-rendering="crispEdges"/>
<line x1="445.3" y1="535.6" x2="445.3" y2="533.6" stroke="#1a1a1a" stroke-width="0.9"/>
<line x1="400.3" y1="474.4" x2="459.9" y2="474.4" stroke="#1a1a1a" stroke-width="1.3"/>
<path d="M411.5,490.3 H419.1 M415.3,490.3 V496.3 M411.5,496.3 H419.1" fill="none" stroke="#111" stroke-width="1.4"/>
<path d="M441.5,492.8 H449.1 M445.3,492.8 V498.3 M441.5,498.3 H449.1" fill="none" stroke="#111" stroke-width="1.4"/>
<path d="M480.6,448.0 H479.0 V535.6 H538.6" fill="none" stroke="#4a4a4a" stroke-width="1" shape-rendering="crispEdges"/>
<text x="514.2" y="438.7" font-size="17.3" font-style="italic" text-anchor="middle">P2</text>
<text x="474.6" y="453.0" font-size="10.4" font-weight="bold" text-anchor="end">1</text>
<text x="474.6" y="478.3" font-size="10.4" font-weight="bold" text-anchor="end">0</text>
<text x="474.6" y="503.6" font-size="10.4" font-weight="bold" text-anchor="end">-1</text>
<text x="474.6" y="528.9" font-size="10.4" font-weight="bold" text-anchor="end">-2</text>
<line x1="479.0" y1="525.0" x2="480.3" y2="525.0" stroke="#333" stroke-width="0.8"/>
<line x1="479.0" y1="512.4" x2="480.3" y2="512.4" stroke="#333" stroke-width="0.8"/>
<line x1="479.0" y1="499.7" x2="480.3" y2="499.7" stroke="#333" stroke-width="0.8"/>
<line x1="479.0" y1="487.0" x2="480.3" y2="487.0" stroke="#333" stroke-width="0.8"/>
<line x1="479.0" y1="461.8" x2="480.3" y2="461.8" stroke="#333" stroke-width="0.8"/>
<rect x="481.8" y="460.5" width="24.5" height="13.9" fill="#fff" stroke="#3a3a3a" stroke-width="1" shape-rendering="crispEdges"/>
<line x1="494.0" y1="535.6" x2="494.0" y2="533.6" stroke="#1a1a1a" stroke-width="0.9"/>
<rect x="511.8" y="463.8" width="24.5" height="10.6" fill="#EF8C6E" stroke="#3a3a3a" stroke-width="1" shape-rendering="crispEdges"/>
<line x1="524.0" y1="535.6" x2="524.0" y2="533.6" stroke="#1a1a1a" stroke-width="0.9"/>
<line x1="479.0" y1="474.4" x2="538.6" y2="474.4" stroke="#1a1a1a" stroke-width="1.3"/>
<path d="M490.2,458.0 H497.8 M494.0,458.0 V463.5 M490.2,463.5 H497.8" fill="none" stroke="#111" stroke-width="1.4"/>
<path d="M520.2,461.7 H527.8 M524.0,461.7 V465.5 M520.2,465.5 H527.8" fill="none" stroke="#111" stroke-width="1.4"/>
<text x="128.4" y="550" font-size="11" font-weight="bold">Control</text>
<text x="175.8" y="550" font-size="11" font-weight="bold">Tinnitus</text>
<text x="386.2" y="550" font-size="11" font-weight="bold">Control</text>
<text x="433.6" y="550" font-size="11" font-weight="bold">Tinnitus</text>
</svg>
</body></html>
